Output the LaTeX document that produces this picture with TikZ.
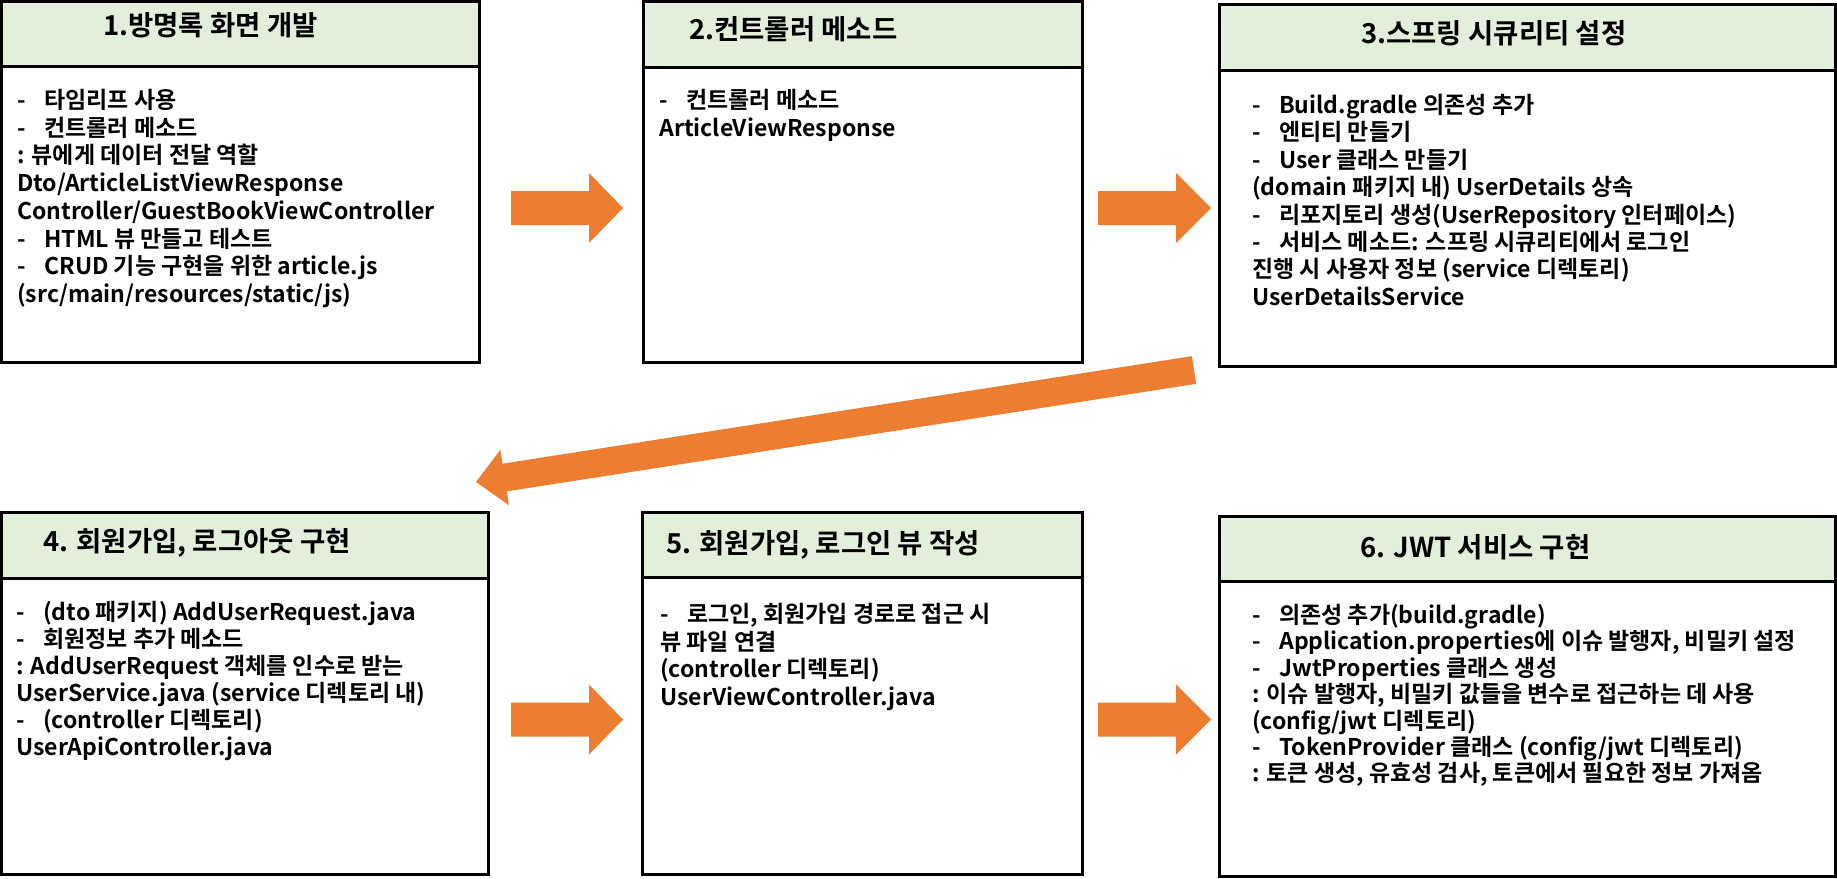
\documentclass[tikz,border=0pt]{standalone}
\usepackage{fontspec}
\setmainfont{Noto Sans CJK KR}[BoldFont=* Bold]
\usetikzlibrary{calc}
\newdimen\pxu \pxu=0.75pt
\definecolor{hdrgreen}{HTML}{E2EFDA}
\definecolor{arroworange}{HTML}{ED7D31}
\newcommand\dl[1]{\makebox[27\pxu][l]{-}#1}
\newcommand\bodyblock[5]{\foreach \btext [count=\i from 0] in {#5} {\node[bodytext] (#1-\i) at (#2,{#3+8.5+#4*\i}) {\btext};}}
\newcommand\stepbox[6]{% name, x1, y1, x2, y2, header y
  \coordinate (#1nw) at (#2,#3); \coordinate (#1se) at (#4,#5);
  \fill[hdrgreen] (#1nw) rectangle (#4,#6);
  \draw[boxline] (#1nw) rectangle (#1se);
  \draw[boxline] (#2,#6) -- (#4,#6);}
\begin{document}
\begin{tikzpicture}[x=0.75pt,y=-0.75pt,
  boxline/.style={line width=2.25pt,black},
  hdrtext/.style={anchor=base west,inner sep=0pt,font=\fontsize{20.6}{24}\selectfont\bfseries},
  bodytext/.style={anchor=base west,inner sep=0pt,font=\fontsize{17.25}{20}\selectfont\bfseries},
  blockarrow/.style={fill=arroworange}]
\fill[white] (0,0) rectangle (1837,878);
\useasboundingbox (0,0) rectangle (1837,878);

% boxes
\stepbox{b1}{1.5}{1.5}{479}{362}{66.5}
\stepbox{b2}{643}{1.5}{1082}{362}{67}
\stepbox{b3}{1219}{4}{1835}{366}{70}
\stepbox{b4}{1.5}{512}{488}{874}{578}
\stepbox{b5}{642}{512}{1082}{874}{577}
\stepbox{b6}{1219}{516}{1835}{876}{581}

% headers
\node[hdrtext] (h1) at (103,36) {1.방명록 화면 개발};
\node[hdrtext] (h2) at (689,39) {2.컨트롤러 메소드};
\node[hdrtext] (h3) at (1361,43) {3.스프링 시큐리티 설정};
\node[hdrtext] (h4) at (43,551) {4. 회원가입, 로그아웃 구현};
\node[hdrtext] (h5) at (666,553) {5. 회원가입, 로그인 뷰 작성};
\node[hdrtext] (h6) at (1360,557) {6. JWT 서비스 구현};

% bodies
\bodyblock{t1}{17}{100}{27.7}{{\dl{타임리프 사용}},{\dl{컨트롤러 메소드}},{: 뷰에게 데이터 전달 역할},{Dto/ArticleListViewResponse},{Controller/GuestBookViewController},{\dl{HTML 뷰 만들고 테스트}},{\dl{CRUD 기능 구현을 위한 article.js}},{(src/main/resources/static/js)}}
\bodyblock{t2}{659}{100}{27.7}{{\dl{컨트롤러 메소드}},{ArticleViewResponse}}
\bodyblock{t3}{1252}{105}{27.4}{{\dl{Build.gradle 의존성 추가}},{\dl{엔티티 만들기}},{\dl{User 클래스 만들기}},{(domain 패키지 내) UserDetails 상속},{\dl{리포지토리 생성(UserRepository 인터페이스)}},{\dl{서비스 메소드: 스프링 시큐리티에서 로그인}},{진행 시 사용자 정보 (service 디렉토리)},{UserDetailsService}}
\bodyblock{t4}{16}{612}{27}{{\dl{(dto 패키지) AddUserRequest.java}},{\dl{회원정보 추가 메소드}},{: AddUserRequest 객체를 인수로 받는},{UserService.java (service 디렉토리 내)},{\dl{(controller 디렉토리)}},{UserApiController.java}}
\bodyblock{t5}{660}{614}{27.5}{{\dl{로그인, 회원가입 경로로 접근 시}},{뷰 파일 연결},{(controller 디렉토리)},{UserViewController.java}}
\bodyblock{t6}{1252}{615}{26.4}{{\dl{의존성 추가(build.gradle)}},{\dl{Application.properties에 이슈 발행자, 비밀키 설정}},{\dl{JwtProperties 클래스 생성}},{: 이슈 발행자, 비밀키 값들을 변수로 접근하는 데 사용},{(config/jwt 디렉토리)},{\dl{TokenProvider 클래스 (config/jwt 디렉토리)}},{: 토큰 생성, 유효성 검사, 토큰에서 필요한 정보 가져옴}}

% horizontal block arrows
\foreach \xa/\xb/\xc/\yc in {511/589/623/208, 1098/1176/1211/208, 511/589/623/719.5, 1098/1176/1211/719.5}{
  \fill[blockarrow] (\xa,\yc-17) -- (\xb,\yc-17) -- (\xb,\yc-35) -- (\xc,\yc) -- (\xb,\yc+35) -- (\xb,\yc+17) -- (\xa,\yc+17) -- cycle;}

% diagonal block arrow from box 3 to box 4
\coordinate (dtail) at (1194,370);
\coordinate (dtip) at (476,482);
\coordinate (dbase) at ($(dtip)!29\pxu!(dtail)$);
\fill[blockarrow] ($(dtail)!14\pxu!90:(dtip)$) -- ($(dbase)!14\pxu!90:(dtip)$) -- ($(dbase)!28\pxu!90:(dtip)$) -- (dtip)
  -- ($(dbase)!28\pxu!-90:(dtip)$) -- ($(dbase)!14\pxu!-90:(dtip)$) -- ($(dtail)!14\pxu!-90:(dtip)$) -- cycle;
\end{tikzpicture}
\end{document}
